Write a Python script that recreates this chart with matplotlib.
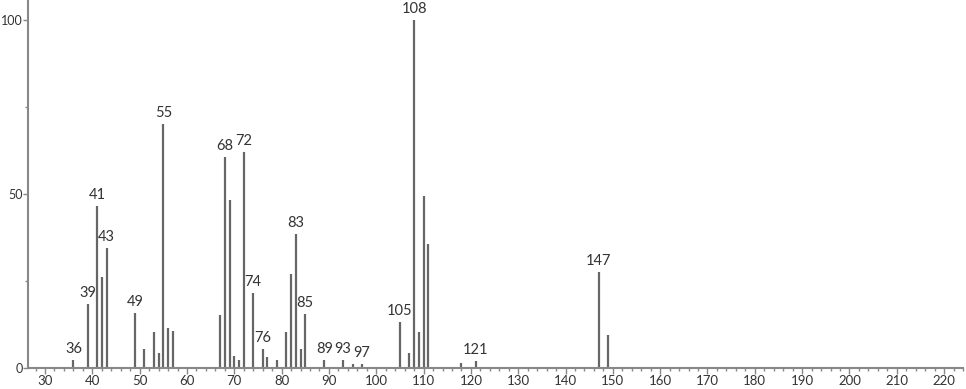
import matplotlib.pyplot as plt
from matplotlib.ticker import MultipleLocator

# m/z values and relative intensities
mz = [36, 39, 41, 42, 43, 49, 51, 53, 54, 55, 56, 57,
      67, 68, 69, 70, 71, 72, 74, 76, 77, 79, 81, 82, 83, 84, 85,
      89, 93, 95, 97, 105, 107, 108, 109, 110, 111, 118, 121, 147, 149]
intensity = [2.3, 18.4, 46.6, 26.2, 34.5, 15.8, 5.4, 10.3, 4.3, 70.1, 11.4, 10.5,
             15.2, 60.6, 48.3, 3.4, 2.3, 62.1, 21.5, 5.5, 3.2, 2.3, 10.3, 27.0, 38.5, 5.5, 15.5,
             2.3, 2.3, 1.1, 1.1, 13.2, 4.3, 100.0, 10.3, 49.4, 35.6, 1.5, 2.0, 27.6, 9.5]
labelled = [36, 39, 41, 43, 49, 55, 68, 72, 74, 76, 83, 85, 89, 93, 97, 105, 108, 121, 147]

plt.rcParams['font.family'] = ['Lato', 'DejaVu Sans']

fig = plt.figure(figsize=(9.66, 3.89), dpi=100)
ax = fig.add_axes([28 / 966, 21 / 389, 935 / 966, 368 / 389])

ax.vlines(mz, 0, intensity, colors='#666666', linewidth=1.6)

for m, v in zip(mz, intensity):
    if m in labelled:
        ax.text(m, v + 1.2, str(m), ha='center', va='bottom',
                fontsize=10.5, color='#333333')

ax.set_xlim(26.4, 224)
ax.set_ylim(0, 105.7)

ax.xaxis.set_major_locator(MultipleLocator(10))
ax.xaxis.set_minor_locator(MultipleLocator(2))
ax.yaxis.set_major_locator(MultipleLocator(50))
ax.yaxis.set_minor_locator(MultipleLocator(25))

for side in ['top', 'right']:
    ax.spines[side].set_visible(False)
for side in ['left', 'bottom']:
    ax.spines[side].set_color('#888888')
    ax.spines[side].set_linewidth(1.5)

ax.tick_params(which='major', length=4, width=1, color='#888888',
               labelsize=9.5, labelcolor='#333333', pad=1)
ax.tick_params(axis='y', which='major', length=3.5, pad=0.5, labelsize=9)
ax.tick_params(which='minor', length=2.5, width=1, color='#888888')

plt.savefig('out.png', dpi=100)
